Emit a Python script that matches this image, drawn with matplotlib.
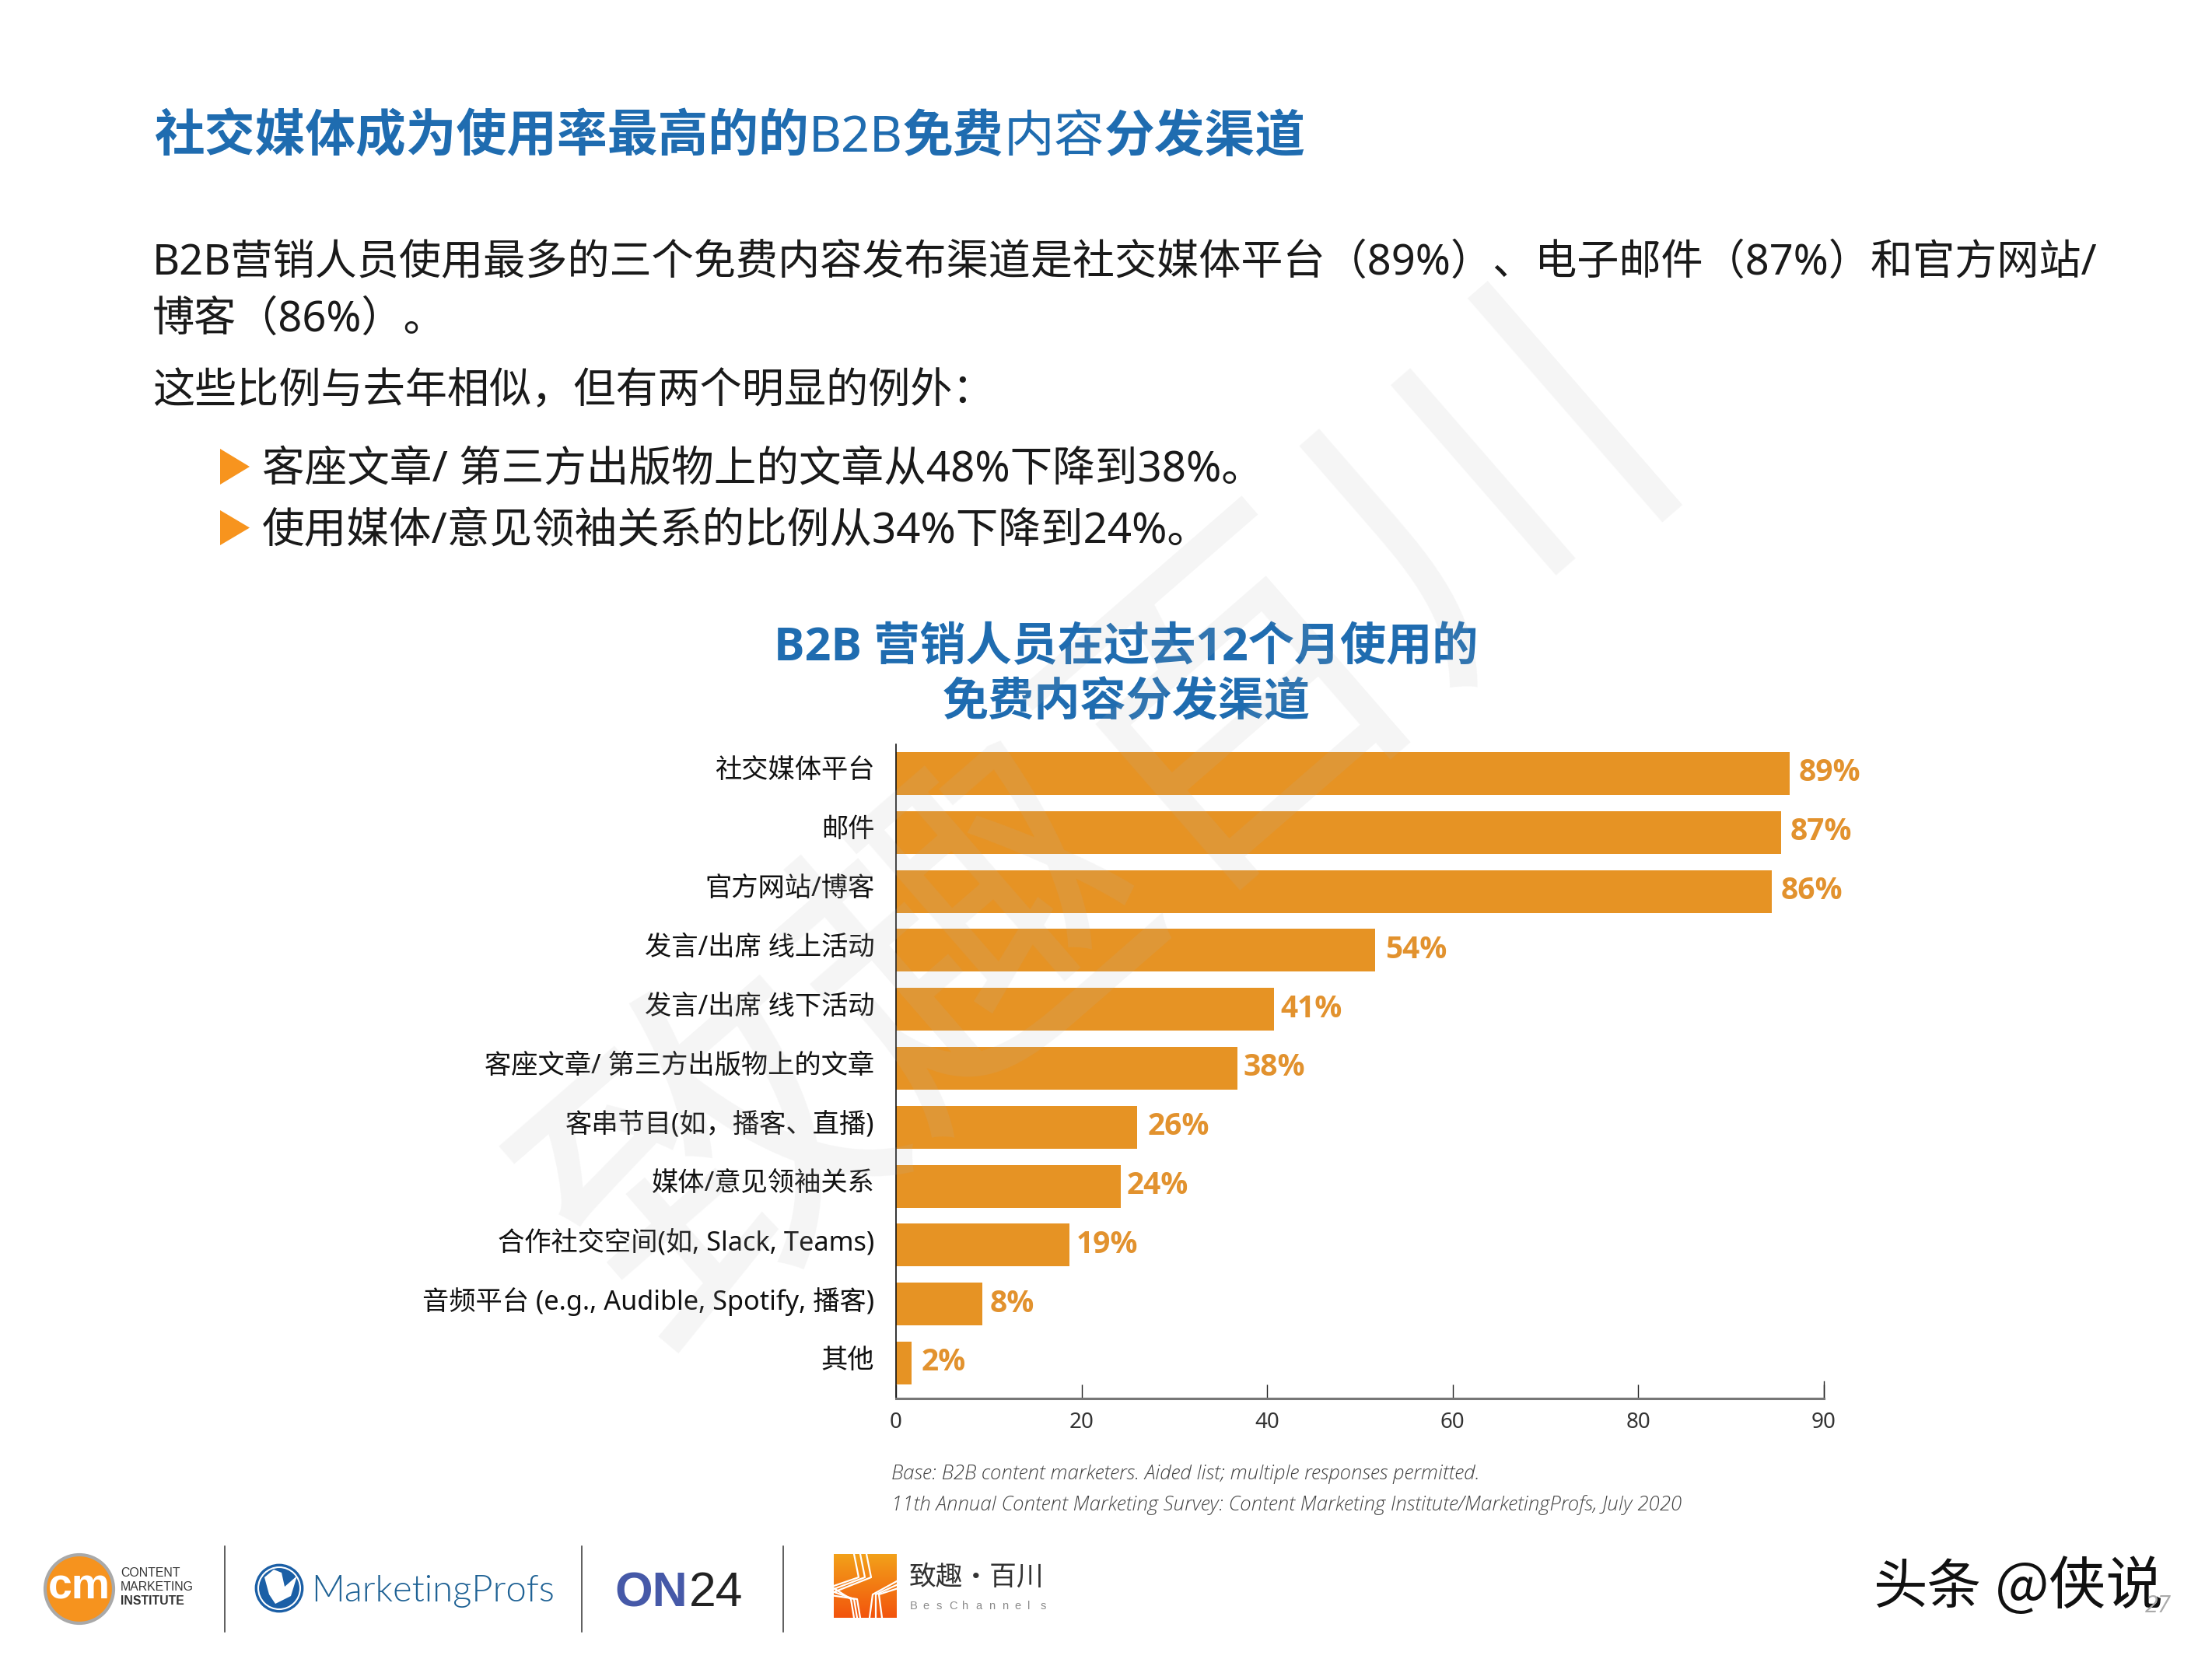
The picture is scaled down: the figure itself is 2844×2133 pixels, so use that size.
import numpy as np
import matplotlib
matplotlib.use("Agg")
import matplotlib.pyplot as plt
from matplotlib.patches import Circle, Polygon

categories = ["社交媒体平台", "邮件", "官方网站/博客", "发言/出席 线上活动", "发言/出席 线下活动",
              "客座文章/ 第三方出版物上的文章", "客串节目(如，播客、直播)", "媒体/意见领袖关系",
              "合作社交空间(如, Slack, Teams)", "音频平台 (e.g., Audible, Spotify, 播客)", "其他"]
percent_labels = [89, 87, 86, 54, 41, 38, 26, 24, 19, 8, 2]
# Bar lengths as drawn, read against the axis (equal tick spacing, last tick labelled 90)
bar_lengths = [96.3, 95.4, 94.4, 51.6, 40.7, 36.8, 26.0, 24.2, 18.7, 9.3, 1.7]
tick_positions = [0, 20, 40, 60, 80, 100]
tick_labels = ["0", "20", "40", "60", "80", "90"]
label_gaps = [1.0, 1.0, 1.0, 1.1, 0.7, 0.6, 1.1, 0.7, 0.7, 0.8, 1.0]

W, H = 2844, 2133
FONT = ["Noto Sans", "Noto Sans CJK SC"]
FONT_B = ["Open Sans", "Noto Sans CJK SC"]
BLUE = "#1F6CB0"
ORANGE = "#E69324"
plt.rcParams["font.family"] = FONT

fig = plt.figure(figsize=(W / 100, H / 100), dpi=100, facecolor="white")
bg = fig.add_axes([0, 0, 1, 1], zorder=0)
bg.set_xlim(0, W); bg.set_ylim(H, 0); bg.axis("off")
renderer = fig.canvas.get_renderer()


def runs(x, y, parts, size, color, ax=bg):
    """Draw text runs with differing weights one after the other on a baseline."""
    for s, w in parts:
        t = ax.text(x, y, s, fontsize=size, color=color, fontweight=w, va="baseline", ha="left",
                    family=FONT_B if w == "bold" else FONT)
        x += t.get_window_extent(renderer).width


# Heading
runs(198, 195, [("社交媒体成为使用率最高的的", "bold"), ("B2B", "normal"), ("免费", "bold"),
                ("内容", "normal"), ("分发渠道", "bold")], 46.6, BLUE)

# Body
BODY = 39.0
INK = "#1a1a1a"
bg.text(196, 353, "B2B营销人员使用最多的三个免费内容发布渠道是社交媒体平台（89%）、电子邮件（87%）和官方网站/",
        fontsize=BODY, color=INK, va="baseline")
bg.text(196, 426, "博客（86%）。", fontsize=BODY, color=INK, va="baseline")
bg.text(196, 518, "这些比例与去年相似，但有两个明显的例外：", fontsize=BODY, color=INK, va="baseline")
bg.text(337, 619, "客座文章/ 第三方出版物上的文章从48%下降到38%。", fontsize=39.3, color=INK, va="baseline")
bg.text(337, 698, "使用媒体/意见领袖关系的比例从34%下降到24%。", fontsize=39.3, color=INK, va="baseline")
for y0, y1 in [(577, 623), (656, 701)]:
    bg.add_patch(Polygon([(283, y0), (321, (y0 + y1) / 2), (283, y1)], closed=True, fc="#F7941E", ec="none"))

# Chart title
bg.text(1448, 849, "B2B 营销人员在过去12个月使用的", fontsize=42.6, fontweight="bold", color=BLUE, ha="center",
        va="baseline", family=FONT_B)
bg.text(1448, 920, "免费内容分发渠道", fontsize=42.6, fontweight="bold", color=BLUE, ha="center",
        va="baseline", family=FONT_B)

# Chart
AX_L, AX_R, AX_T, AX_B = 1152, 2345, 957, 1798
ax = fig.add_axes([AX_L / W, 1 - AX_B / H, (AX_R - AX_L) / W, (AX_B - AX_T) / H], zorder=1)
ax.patch.set_alpha(0)
pitch = 75.8
first = 994.5
ax.set_xlim(0, 100)
ax.set_ylim((AX_B - first) / pitch, (AX_T - first) / pitch)
ypos = np.arange(len(categories))
ax.barh(ypos, bar_lengths, height=0.725, color=ORANGE, edgecolor="none")
for i, (v, p, g) in enumerate(zip(bar_lengths, percent_labels, label_gaps)):
    ax.text(v + g, i + 0.13, f"{p}%", fontsize=28, fontweight="bold", color="#E2922E", va="baseline", ha="left",
            family=FONT_B)
ax.set_yticks(ypos)
ax.set_yticklabels(categories, fontsize=24.7, color="#111111")
ax.tick_params(axis="y", length=0, pad=20)
shift = matplotlib.transforms.ScaledTranslation(0, 0.07, fig.dpi_scale_trans)
for lab in ax.get_yticklabels():
    lab.set_transform(lab.get_transform() + shift)
ax.set_xticks(tick_positions)
ax.set_xticklabels(tick_labels, fontsize=20, color="#333333", fontweight=300)
ax.tick_params(axis="x", direction="in", length=13, width=1, color="#222222", pad=12)
ax.plot([1, 1], [0, 0.026], transform=ax.transAxes, color="#222222", lw=1, clip_on=False)
for s in ("top", "right"):
    ax.spines[s].set_visible(False)
ax.spines["left"].set_linewidth(1.2)
ax.spines["left"].set_color("#111111")
ax.spines["bottom"].set_linewidth(2.2)
ax.spines["bottom"].set_color("#777777")

# Source notes
for y, s in [(1902, "Base: B2B content marketers. Aided list; multiple responses permitted."),
             (1942, "11th Annual Content Marketing Survey: Content Marketing Institute/MarketingProfs, July 2020")]:
    bg.text(1146, y, s, fontsize=18.6, style="italic", fontweight=300, color="#444444", va="baseline", family="Open Sans")

# Watermark over the content
fig.text(1427 / W, 1 - 1063 / H, "致趣百川", fontsize=317, color="#b4b4b4", alpha=0.13, rotation=41,
         ha="center", va="center", rotation_mode="anchor", zorder=5, family="Noto Sans CJK SC")

# Logo dividers
for x in (289, 748, 1007):
    bg.plot([x, x], [1988, 2098], color="#333333", lw=1.1)

# Content Marketing Institute logo
bg.add_patch(Circle((102, 2043), 44, fc="#F6931E", ec="#A9A9A9", lw=3))
bg.text(102, 2041, "cm", fontsize=40, fontweight="bold", color="white", ha="center", va="center", family="Liberation Sans")
for y, s, w in [(2027, "CONTENT", "normal"), (2045, "MARKETING", "normal"), (2063, "INSTITUTE", "bold")]:
    bg.text(155, y, s, fontsize=11.4, fontweight=w, color="#333333", family="Liberation Sans", va="baseline")

# MarketingProfs logo
bg.add_patch(Circle((359, 2042), 30, fc="#1B5FA6", ec="#1B5FA6", lw=2))
bg.add_patch(Circle((359, 2042), 27, fc="none", ec="white", lw=1.5))
bg.add_patch(Polygon([(340, 2028), (352, 2018), (362, 2022), (366, 2040), (382, 2026), (374, 2052), (354, 2062), (346, 2050)],
                     closed=True, fc="white", ec="none"))
bg.text(400, 2059, "MarketingProfs", fontsize=34, color="#1F6295", family="Lato", fontweight=300, va="baseline")

# ON24 logo
bg.text(790, 2065, "ON", fontsize=45, fontweight="bold", color="#4659A8", family="Liberation Sans", va="baseline")
bg.text(886, 2065, "24", fontsize=45, color="#222222", family="Liberation Sans", va="baseline")

# BesChannels logo
grad = np.linspace(0, 1, 64).reshape(-1, 1)
grad = np.dstack([np.full_like(grad, 0.95), 0.33 + 0.3 * (1 - grad), 0.05 + 0.05 * (1 - grad)])
bg.imshow(grad, extent=(1072, 1153, 2080, 1998), aspect="auto", zorder=1)
bg.set_xlim(0, W); bg.set_ylim(H, 0)
for off in (0, 8, 16):
    bg.plot([1098 + off, 1104 + off, 1072], [1998, 2028, 2039 + off * 0.5], color="white", lw=1.6, zorder=2)
    bg.plot([1153, 1122 + off * 0.5, 1118 + off], [2033 + off * 0.6, 2050, 2080], color="white", lw=1.6, zorder=2)
    bg.plot([1072, 1094 + off * 0.5, 1098 + off * 0.5], [2042 + off * 0.6, 2056, 2080], color="white", lw=1.6, zorder=2)
bg.text(1169, 2038, "致趣·百川", fontsize=25, color="#333333", va="baseline", family="Noto Sans CJK SC")
for x, c in zip(np.linspace(1170, 1338, 11), "BesChannels"):
    bg.text(x, 2069, c, fontsize=10.5, color="#8a8a8a", va="baseline", ha="left", family="Liberation Sans")

# Toutiao mark and page number
bg.text(2408, 2062, "头条", fontsize=50, color="#111111", va="baseline", family="Noto Sans CJK SC")
bg.text(2565, 2062, "@侠说", fontsize=53, color="#111111", va="baseline", family="Noto Sans CJK SC")
bg.text(2758, 2073, "27", fontsize=22, color="#AAAAAA", style="italic", va="baseline", family="Open Sans")

fig.savefig("out.png", dpi=100, facecolor="white")
